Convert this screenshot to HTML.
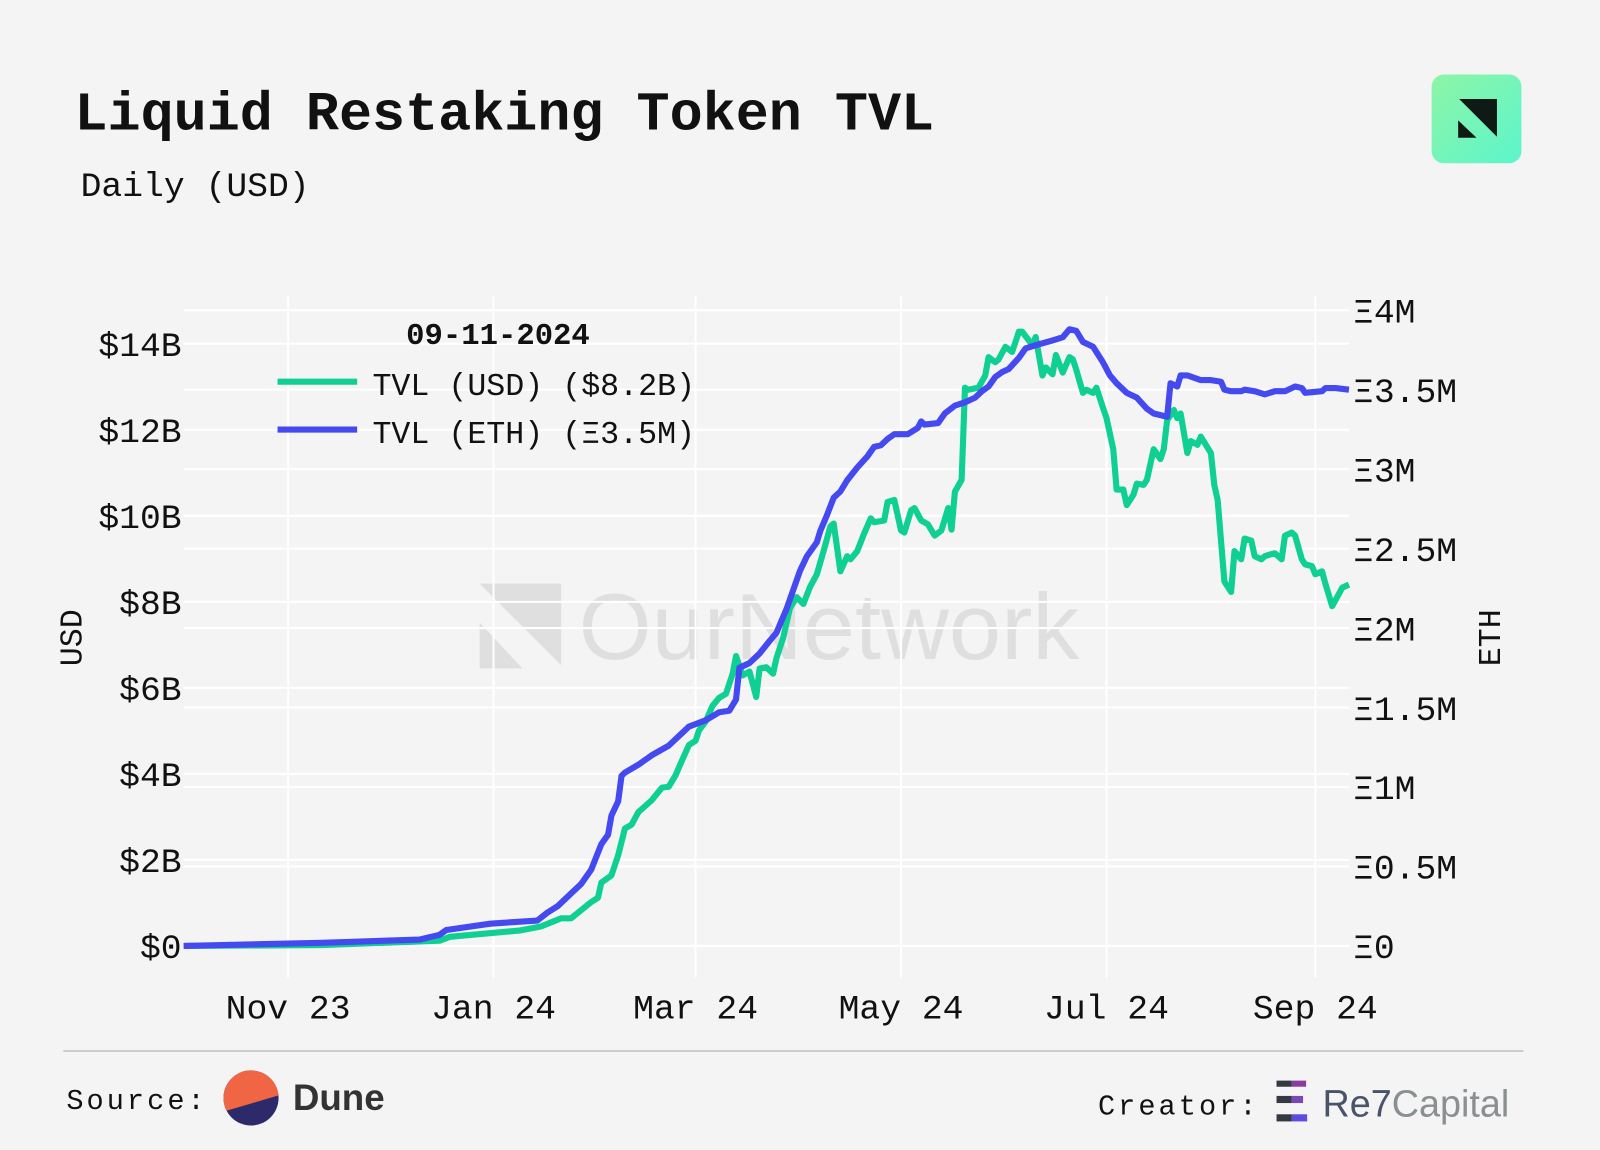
<!DOCTYPE html>
<html><head><meta charset="utf-8"><style>
html,body{margin:0;padding:0;background:#f4f4f4;}
svg{display:block;}
text{font-family:"Liberation Mono",monospace;}
</style></head><body>
<svg id="chart" width="1600" height="1150" viewBox="0 0 1568 1127" xmlns="http://www.w3.org/2000/svg">
<rect width="1568" height="1127" fill="#f4f4f4"/>
<text x="73" y="127" font-size="54" font-weight="bold" fill="#111">Liquid Restaking Token TVL</text>
<text x="79" y="192" font-size="34" fill="#111">Daily (USD)</text>
<g>
<defs><linearGradient id="lg" x1="0" y1="0" x2="1" y2="1"><stop offset="0" stop-color="#8ef5a6"/><stop offset="1" stop-color="#5cf5cc"/></linearGradient></defs>
<rect x="1403" y="73" width="88" height="87" rx="12" fill="url(#lg)"/>
<polygon points="1430,97 1467,97 1467,134" fill="#0f1a14"/>
<polygon points="1429,118 1429,135 1447,135" fill="#0f1a14"/>
</g>
<g id="watermark" opacity="0.08">
<polygon points="470,572 550,572 550,652" fill="#000"/>
<polygon points="470,610 470,655 512,655" fill="#000"/>
<text x="567" y="646" font-family="Liberation Sans, sans-serif" font-size="92" fill="#000" style="font-family:'Liberation Sans',sans-serif">OurNetwork</text>
</g>
<g id="grid"></g>
<g id="axes"></g>
<g id="series"></g>
<text x="80" y="625" font-size="31" fill="#111" transform="rotate(-90 80 625)" text-anchor="middle">USD</text>
<text x="1470" y="625" font-size="31" fill="#111" transform="rotate(-90 1470 625)" text-anchor="middle">ETH</text>
<g>
<text x="398" y="337" font-size="30" font-weight="bold" fill="#111">09-11-2024</text>
<line x1="272" y1="374" x2="350" y2="374" stroke="#0fcf92" stroke-width="6"/>
<text x="365" y="387" font-size="31" fill="#111">TVL (USD) ($8.2B)</text>
<line x1="272" y1="421" x2="350" y2="421" stroke="#4449f0" stroke-width="6"/>
<text x="365" y="434" font-size="31" fill="#111">TVL (ETH) (Ξ3.5M)</text>
</g>
<line x1="62" y1="1030" x2="1493" y2="1030" stroke="#cfcbcb" stroke-width="2"/>
<text x="65" y="1087" font-size="28" letter-spacing="3" fill="#111">Source:</text>
<g>
<clipPath id="dc"><circle cx="246" cy="1076" r="27"/></clipPath>
<circle cx="246" cy="1076" r="27" fill="#2c2a6b"/>
<polygon points="210,1040 285,1040 285,1070 210,1092" fill="#f06543" clip-path="url(#dc)"/>
<text x="287" y="1088" font-size="36" font-weight="bold" fill="#333" style="font-family:'Liberation Sans',sans-serif">Dune</text>
</g>
<text x="1076" y="1092" font-size="28" letter-spacing="3" fill="#111">Creator:</text>
<g>
<rect x="1251" y="1059" width="15" height="6" fill="#333a44"/><rect x="1266" y="1059" width="14" height="6" fill="#8a3d9e"/>
<rect x="1251" y="1074" width="15" height="7" fill="#333a44"/><rect x="1266" y="1074" width="11" height="7" fill="#7a46b8"/>
<rect x="1251" y="1092" width="15" height="7" fill="#333a44"/><rect x="1266" y="1092" width="15" height="7" fill="#5a4de0"/>
<text x="1296" y="1094" font-size="37" style="font-family:'Liberation Sans',sans-serif"><tspan fill="#4a5468">Re7</tspan><tspan fill="#8a8f92">Capital</tspan></text>
</g>
</svg>
<script>
const usdDays=[0,41,76,79,100,106,112,115,121,123,124,127,129,131,133,135,137,139,142,144,146,148,150,152,153,155,157,159,161,163,164,166,168,170,171,173,175,176,178,180,182,184,186,188,190,192,193,195,197,198,200,202,204,205,208,209,211,213,214,216,217,219,221,223,225,227,228,229,231,232,233,236,238,239,241,242,244,246,248,249,252,253,255,256,258,259,261,263,264,265,267,268,270,271,273,274,276,277,279,280,282,283,285,286,288,290,291,292,294,295,296,298,299,301,302,305,306,307,308,309,311,312,314,315,317,318,320,321,323,324,326,327,329,330,332,333,335,336,338,339,341,342,344,346];
const usdValues=[0,0.02,0.12,0.21,0.36,0.45,0.64,0.64,1.02,1.12,1.47,1.64,2.11,2.73,2.82,3.11,3.25,3.39,3.68,3.70,3.96,4.32,4.67,4.77,5.01,5.22,5.58,5.77,5.86,6.33,6.74,6.29,6.38,5.79,6.45,6.48,6.33,6.69,7.16,7.85,8.11,7.95,8.35,8.64,9.18,9.75,9.82,8.71,9.06,8.99,9.18,9.58,9.94,9.85,9.89,10.32,10.37,9.66,9.61,10.13,10.18,9.89,9.80,9.54,9.66,10.18,9.68,10.56,10.84,12.98,12.93,12.98,13.26,13.69,13.57,13.64,13.93,13.81,14.28,14.28,13.97,14.16,13.26,13.45,13.29,13.74,13.33,13.69,13.64,13.40,12.86,12.93,12.86,12.98,12.50,12.27,11.55,10.61,10.61,10.25,10.49,10.75,10.72,10.84,11.55,11.32,11.55,12.22,12.46,12.27,12.38,11.46,11.74,11.65,11.84,11.46,10.72,10.37,9.42,8.47,8.23,9.18,8.99,9.47,9.42,9.06,8.99,9.06,9.11,9.13,8.99,9.54,9.61,9.54,8.99,8.87,8.83,8.64,8.71,8.42,7.90,8.04,8.33,8.40];
const ethDays=[0,41,70,76,78,91,105,108,111,115,118,121,124,126,127,129,130,131,135,139,144,146,148,150,155,159,162,164,165,168,171,174,176,179,181,183,185,188,189,191,193,195,197,200,203,205,207,209,211,215,218,219,220,224,226,229,232,235,237,239,241,243,245,248,250,253,258,261,263,265,267,270,273,275,277,280,283,286,288,292,293,295,296,298,302,305,308,309,311,314,315,318,321,324,327,330,332,333,338,339,342,346];
const ethValues=[0,0.02,0.04,0.07,0.10,0.14,0.16,0.21,0.25,0.33,0.39,0.48,0.64,0.70,0.82,0.91,1.07,1.09,1.14,1.20,1.26,1.30,1.34,1.38,1.42,1.47,1.48,1.55,1.75,1.78,1.84,1.92,1.97,2.12,2.24,2.36,2.45,2.54,2.61,2.71,2.82,2.86,2.93,3.01,3.08,3.14,3.15,3.19,3.22,3.22,3.26,3.30,3.28,3.29,3.35,3.40,3.42,3.45,3.49,3.52,3.58,3.61,3.63,3.70,3.76,3.78,3.81,3.83,3.88,3.87,3.80,3.77,3.67,3.59,3.54,3.48,3.45,3.38,3.35,3.33,3.54,3.52,3.59,3.59,3.56,3.56,3.55,3.50,3.49,3.49,3.50,3.49,3.47,3.49,3.49,3.52,3.51,3.48,3.49,3.51,3.51,3.50];
const leftTicks=[0,2,4,6,8,10,12,14];
const leftTickLabels=["$0","$2B","$4B","$6B","$8B","$10B","$12B","$14B"];
const rightTicks=[0,0.5,1,1.5,2,2.5,3,3.5,4];
const rightTickLabels=["Ξ0","Ξ0.5M","Ξ1M","Ξ1.5M","Ξ2M","Ξ2.5M","Ξ3M","Ξ3.5M","Ξ4M"];
const monthTicks=[31,92,152,213,274,336];
const monthLabels=["Nov 23","Jan 24","Mar 24","May 24","Jul 24","Sep 24"];

const NS='http://www.w3.org/2000/svg';
const X0=180,X1=1322,D1=346,Y0=927;
const xScale=d=>X0+(X1-X0)*d/D1;
const yLeft=v=>Y0-v*42.15;
const yRight=v=>Y0-v*155.75;
function mk(tag,parent){const e=document.createElementNS(NS,tag);parent.appendChild(e);return e;}
const grid=document.getElementById('grid'),axes=document.getElementById('axes'),series=document.getElementById('series');
leftTicks.forEach((t,i)=>{
  const y=yLeft(t);
  const l=mk('line',grid);
  
  
  l.setAttribute('x1',X0);l.setAttribute('x2',X1);l.setAttribute('y1',y);l.setAttribute('y2',y);
  l.setAttribute('stroke','#fff');l.setAttribute('stroke-width','2');
  const tx=mk('text',axes);
  
  
  tx.setAttribute('x',178);tx.setAttribute('y',y+12);tx.setAttribute('text-anchor','end');
  tx.setAttribute('font-size','34');tx.setAttribute('fill','#111');tx.textContent=leftTickLabels[i];
});
rightTicks.forEach((t,i)=>{
  const y=yRight(t);
  const l=mk('line',grid);
  
  
  l.setAttribute('x1',X0);l.setAttribute('x2',X1);l.setAttribute('y1',y);l.setAttribute('y2',y);
  l.setAttribute('stroke','#fff');l.setAttribute('stroke-width','2');
  const tx=mk('text',axes);
  
  
  tx.setAttribute('x',1326);tx.setAttribute('y',y+12);
  tx.setAttribute('font-size','34');tx.setAttribute('fill','#111');tx.textContent=rightTickLabels[i];
});
monthTicks.forEach((d,i)=>{
  const x=xScale(d);
  const l=mk('line',grid);
  
  
  l.setAttribute('x1',x);l.setAttribute('x2',x);l.setAttribute('y1',290);l.setAttribute('y2',958);
  l.setAttribute('stroke','#fff');l.setAttribute('stroke-width','2');
  const tx=mk('text',axes);
  
  
  tx.setAttribute('x',x);tx.setAttribute('y',998);tx.setAttribute('text-anchor','middle');
  tx.setAttribute('font-size','34');tx.setAttribute('fill','#111');tx.textContent=monthLabels[i];
});
function drawLine(days,vals,ys,color,name){
  const p=mk('polyline',series);
  
  
  p.setAttribute('points',days.map((d,i)=>xScale(d).toFixed(1)+','+ys(vals[i]).toFixed(1)).join(' '));
  p.setAttribute('fill','none');p.setAttribute('stroke',color);p.setAttribute('stroke-width','6');
  p.setAttribute('stroke-linejoin','round');
}
drawLine(usdDays,usdValues,yLeft,'#0fcf92','line-tvl-usd');
drawLine(ethDays,ethValues,yRight,'#4449f0','line-tvl-eth');
</script>
</body></html>
